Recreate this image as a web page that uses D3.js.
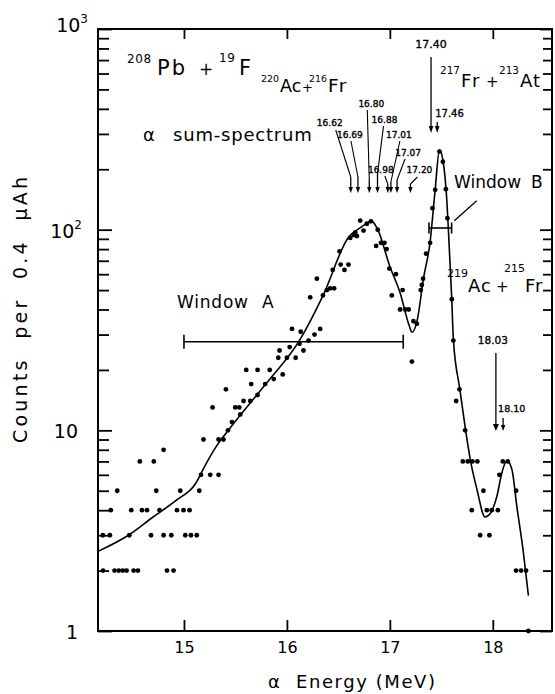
<!DOCTYPE html>
<html>
<head>
<meta charset="utf-8">
<script src="https://cdn.jsdelivr.net/npm/d3@7"></script>
<style>
  body { margin: 0; background: #fff; }
  svg { display: block; }
  text { font-family: "DejaVu Sans", "Noto Sans", sans-serif; fill: #000; }
</style>
</head>
<body>
<svg id="chart" width="555" height="694"></svg>
<script>
// ---- data ----
const xTicks = [15, 16, 17, 18];
const yTicks = [1, 10, 100, 1000];
const yTickBase = ["1", "10", "10", "10"];
const yTickExp = ["", "", "2", "3"];

// measured alpha sum-spectrum (energy in MeV, counts per 0.4 uAh)
const energy = [
  14.212, 14.214, 14.280, 14.289, 14.326, 14.352, 14.367, 14.406, 14.443, 14.469,
  14.488, 14.511, 14.553, 14.571, 14.592, 14.641, 14.680, 14.707, 14.731, 14.763,
  14.802, 14.802, 14.835, 14.877, 14.899, 14.932, 14.964, 14.996, 15.013, 15.054,
  15.068, 15.124, 15.149, 15.165, 15.190, 15.255, 15.278, 15.336, 15.336, 15.384,
  15.408, 15.427, 15.466, 15.498, 15.537, 15.547, 15.579, 15.605, 15.644, 15.653,
  15.715, 15.715, 15.789, 15.833, 15.872, 15.916, 15.928, 15.959, 16.000, 16.027,
  16.049, 16.085, 16.122, 16.134, 16.161, 16.210, 16.226, 16.268, 16.291, 16.323,
  16.350, 16.388, 16.420, 16.445, 16.459, 16.511, 16.522, 16.559, 16.598, 16.615,
  16.649, 16.663, 16.680, 16.712, 16.744, 16.777, 16.816, 16.867, 16.882, 16.913,
  16.948, 16.969, 16.995, 17.019, 17.059, 17.100, 17.124, 17.149, 17.183, 17.214,
  17.229, 17.262, 17.300, 17.310, 17.323, 17.352, 17.391, 17.414, 17.440, 17.482,
  17.515, 17.544, 17.559, 17.602, 17.617, 17.644, 17.676, 17.709, 17.731, 17.757,
  17.796, 17.802, 17.850, 17.877, 17.909, 17.942, 17.967, 17.990, 18.049, 18.064,
  18.097, 18.146, 18.226, 18.226, 18.275, 18.323, 18.346
];
const counts = [
  3, 2, 3, 4, 2, 5, 2, 2, 2, 3,
  4, 2, 2, 7, 4, 4, 3, 7, 5, 4,
  3, 8, 2, 3, 2, 4, 5, 4, 3, 4,
  3, 3, 5, 6, 9, 6, 13, 6, 9, 9,
  16, 10, 11, 13, 13, 12, 14, 20, 14, 17,
  15, 20, 17, 20, 18, 23, 25, 19, 23, 26,
  32, 23, 27, 31, 25, 28, 46, 30, 57, 32,
  47, 50, 51, 63, 51, 78, 67, 63, 67, 91,
  94, 97, 93, 111, 99, 107, 110, 83, 100, 86,
  86, 80, 64, 47, 60, 40, 50, 40, 40, 22,
  35, 34, 50, 53, 57, 76, 86, 128, 158, 245,
  218, 159, 114, 45, 28, 14, 16, 7, 10, 7,
  4, 7, 7, 3, 5, 4, 3, 4, 4, 6,
  7, 7, 5, 2, 2, 2, 1
];

// smooth fit through the spectrum
const fitEnergy = [
  14.17, 14.46, 14.70, 14.93, 15.11, 15.20, 15.30, 15.45, 15.79, 16.13,
  16.355, 16.60, 16.71, 16.825, 16.875, 17.00, 17.10, 17.19, 17.215, 17.26,
  17.33, 17.39, 17.44, 17.482, 17.52, 17.553, 17.57, 17.60, 17.617, 17.68,
  17.73, 17.78, 17.845, 17.925, 17.975, 18.04, 18.09, 18.136, 18.185, 18.233,
  18.297, 18.346
];
const fitCounts = [
  2.5, 3.0, 3.7, 4.5, 5.4, 6.6, 8.1, 10.3, 16.9, 28.5,
  47.5, 92, 102, 110, 102, 65.6, 48.4, 33, 30.8, 34.3,
  58.5, 86, 158, 250, 214, 141, 96.5, 46.5, 28.4, 16,
  10.5, 7.2, 5.1, 3.7, 3.85, 4.7, 6.2, 7.05, 6.4, 4.2,
  2.46, 1.5
];

// expected sum-line energies marked by arrows (MeV)
const groupLines = [16.62, 16.69, 16.80, 16.88, 16.98, 17.01, 17.07, 17.20];
const peakLines = [17.40, 17.46];
const tailLines = [18.03, 18.10];

// energy windows (MeV)
const windowA = [15.00, 17.13];
const windowB = [17.38, 17.60];

// ---- layout ----
const plot = { left: 98, right: 552, top: 29, bottom: 631 };
const x = d3.scaleLinear().domain([14.165, 18.575]).range([plot.left, plot.right]);
const y = d3.scaleLog().domain([1, 1000]).range([plot.bottom, plot.top]);

const svg = d3.select("#chart");
const ink = "#000";

const minorTicks = [];
for (let d = 1; d < 1000; d *= 10) for (let k = 2; k <= 9; k++) minorTicks.push(k * d);

function styleAxis(g) {
  g.select(".domain").remove();
  g.selectAll(".tick line").attr("stroke", ink).attr("stroke-width", 1.8);
  g.attr("font-family", null).attr("font-size", null);
}

// left axis: major ticks with labels, minor ticks without
const gL = svg.append("g").attr("transform", `translate(${plot.left},0)`)
  .call(d3.axisLeft(y).tickValues(yTicks).tickSizeInner(-14).tickSizeOuter(0).tickPadding(20)
    .tickFormat(() => ""));
styleAxis(gL);
const yLabelShift = { 1: [-20, 0], 10: [-20, 0], 100: [-16, 1], 1000: [-10, -5] };
gL.selectAll(".tick text").each(function (d) {
  const i = yTicks.indexOf(d);
  const t = d3.select(this).attr("font-size", 19).attr("fill", ink)
    .attr("x", yLabelShift[d][0]).attr("dy", null).attr("y", yLabelShift[d][1] + 7);
  t.append("tspan").text(yTickBase[i]);
  if (yTickExp[i]) t.append("tspan").attr("font-size", 12).attr("dy", -9).text(yTickExp[i]);
});
const gLm = svg.append("g").attr("transform", `translate(${plot.left},0)`)
  .call(d3.axisLeft(y).tickValues(minorTicks).tickSizeInner(-11).tickSizeOuter(0).tickFormat(() => ""));
styleAxis(gLm);

// right axis, ticks pointing inward
const gR = svg.append("g").attr("transform", `translate(${plot.right},0)`)
  .call(d3.axisRight(y).tickValues(yTicks).tickSizeInner(-12).tickSizeOuter(0).tickFormat(() => ""));
styleAxis(gR);
const gRm = svg.append("g").attr("transform", `translate(${plot.right},0)`)
  .call(d3.axisRight(y).tickValues(minorTicks).tickSizeInner(-9).tickSizeOuter(0).tickFormat(() => ""));
styleAxis(gRm);

// bottom axis with labels
const gB = svg.append("g").attr("transform", `translate(0,${plot.bottom})`)
  .call(d3.axisBottom(x).tickValues(xTicks).tickSizeInner(-11).tickSizeOuter(0).tickPadding(11)
    .tickFormat(d3.format("d")));
styleAxis(gB);
gB.selectAll(".tick text").attr("font-size", 16).attr("fill", ink);

// top axis, ticks only
const gT = svg.append("g").attr("transform", `translate(0,${plot.top})`)
  .call(d3.axisTop(x).tickValues(xTicks).tickSizeInner(-10).tickSizeOuter(0).tickFormat(() => ""));
styleAxis(gT);

// frame
svg.append("rect")
  .attr("x", plot.left).attr("y", plot.top)
  .attr("width", plot.right - plot.left).attr("height", plot.bottom - plot.top)
  .attr("fill", "none").attr("stroke", ink).attr("stroke-width", 2);

// axis titles
svg.append("text")
  .attr("x", 268).attr("y", 688)
  .attr("font-size", 18).attr("textLength", 167).attr("lengthAdjust", "spacing")
  .style("white-space", "pre")
  .text("α  Energy (MeV)");

svg.append("text")
  .attr("transform", "translate(27,310) rotate(-90)")
  .attr("text-anchor", "middle")
  .attr("font-size", 19).attr("textLength", 266).attr("lengthAdjust", "spacing")
  .style("white-space", "pre")
  .text("Counts  per  0.4  μAh");

// plot content
svg.append("clipPath").attr("id", "plotClip").append("rect")
  .attr("x", plot.left).attr("y", plot.top)
  .attr("width", plot.right - plot.left).attr("height", plot.bottom - plot.top);

const fitLine = d3.line()
  .x(d => x(d[0])).y(d => y(d[1]))
  .curve(d3.curveMonotoneX);
svg.append("path")
  .datum(fitEnergy.map((e, i) => [e, fitCounts[i]]))
  .attr("clip-path", "url(#plotClip)")
  .attr("d", fitLine)
  .attr("fill", "none").attr("stroke", ink).attr("stroke-width", 1.6);

svg.append("g").selectAll("circle")
  .data(energy.map((e, i) => [e, counts[i]]))
  .join("circle")
  .attr("cx", d => x(d[0])).attr("cy", d => y(d[1]))
  .attr("r", 2.4).attr("fill", ink);

// ---- annotations ----
function richText(parts) {
  const t = svg.append("text");
  parts.forEach(p => {
    const s = t.append("tspan").attr("x", p.x).attr("y", p.y).attr("font-size", p.s).text(p.t);
    if (p.ls) s.attr("letter-spacing", p.ls);
  });
  return t;
}

richText([
  { t: "208", x: 127, y: 63, s: 12, ls: 0.6 },
  { t: "Pb", x: 157, y: 75, s: 21, ls: 2 },
  { t: "+", x: 199, y: 75, s: 17 },
  { t: "19", x: 219, y: 62, s: 12, ls: 0.6 },
  { t: "F", x: 239, y: 75, s: 21 }
]);
richText([
  { t: "220", x: 261, y: 82, s: 9.5 },
  { t: "Ac", x: 280, y: 92, s: 17.5 },
  { t: "+", x: 302, y: 92, s: 13 },
  { t: "216", x: 309, y: 82, s: 9.5 },
  { t: "Fr", x: 328, y: 92, s: 18.5, ls: 1.5 }
]);
richText([
  { t: "217", x: 440, y: 74, s: 10.5 },
  { t: "Fr", x: 461, y: 87, s: 18, ls: 2 },
  { t: "+", x: 486, y: 87, s: 15 },
  { t: "213", x: 499, y: 74, s: 10.5 },
  { t: "At", x: 520, y: 87, s: 18, ls: 1 }
]);
richText([
  { t: "219", x: 447, y: 277, s: 11 },
  { t: "Ac", x: 468, y: 292, s: 18, ls: 1 },
  { t: "+", x: 496, y: 292, s: 15 },
  { t: "215", x: 504, y: 272, s: 11 },
  { t: "Fr", x: 525, y: 292, s: 18, ls: 1 }
]);
richText([
  { t: "α ", x: 143, y: 141, s: 18 },
  { t: "sum-spectrum", x: 173, y: 141, s: 18, ls: 0.8 }
]);
richText([
  { t: "Window ", x: 177, y: 308, s: 17, ls: 0.8 },
  { t: "A", x: 262, y: 308, s: 17 }
]);
richText([
  { t: "Window ", x: 454, y: 188, s: 17 },
  { t: "B", x: 531, y: 188, s: 17 }
]);

// window bars
function windowBar(range, yy, cap) {
  const g = svg.append("g").attr("stroke", ink).attr("stroke-width", 1.6);
  g.append("line").attr("x1", x(range[0])).attr("x2", x(range[1])).attr("y1", yy).attr("y2", yy);
  range.forEach(e => g.append("line").attr("x1", x(e)).attr("x2", x(e)).attr("y1", yy - cap).attr("y2", yy + cap));
}
windowBar(windowA, 341.7, 7);
windowBar(windowB, 228, 5.5);
svg.append("line").attr("x1", 454.3).attr("y1", 220.7).attr("x2", 476.7).attr("y2", 200.7)
  .attr("stroke", ink).attr("stroke-width", 1.3);

// arrows
function arrow(xx, yTop, yBot, hw, hh) {
  svg.append("line").attr("x1", xx).attr("x2", xx).attr("y1", yTop).attr("y2", yBot - hh + 1)
    .attr("stroke", ink).attr("stroke-width", 1.3);
  svg.append("path")
    .attr("d", `M${xx - hw},${yBot - hh}L${xx + hw},${yBot - hh}L${xx},${yBot}Z`)
    .attr("fill", ink);
}
function smallLabel(txt, xx, yy, size, anchor) {
  svg.append("text").attr("x", xx).attr("y", yy).attr("font-size", size)
    .attr("text-anchor", anchor || "middle")
    .attr("stroke", ink).attr("stroke-width", 0.35)
    .text(txt);
}

// label offsets relative to each arrow: label dx, label baseline, leader start dx/y, shaft top
const groupLayout = [
  { dx: -21, ly: 126, lx0: -15, ly0: 130, top: 177 },
  { dx: -8, ly: 138, lx0: -7, ly0: 141, top: 177 },
  { dx: 2, ly: 107, lx0: -2, ly0: 110, top: 180 },
  { dx: 7, ly: 123, lx0: 6, ly0: 126, top: 174 },
  { dx: -7, ly: 173, lx0: -3, ly0: 176, top: 184 },
  { dx: 8, ly: 138, lx0: 9, ly0: 141, top: 182 },
  { dx: 11, ly: 156, lx0: 8, ly0: 159, top: 180 },
  { dx: 9, ly: 173, lx0: 7, ly0: 177, top: 184 }
];
groupLines.forEach((e, i) => {
  const L = groupLayout[i], xx = x(e);
  svg.append("line").attr("x1", xx + L.lx0).attr("y1", L.ly0).attr("x2", xx).attr("y2", L.top)
    .attr("stroke", ink).attr("stroke-width", 1.1);
  arrow(xx, L.top, 193, 2.2, 6);
  smallLabel(e.toFixed(2), xx + L.dx, L.ly, 9);
});

// 217Fr + 213At lines
arrow(x(peakLines[0]), 57, 133, 2.3, 7);
smallLabel(peakLines[0].toFixed(2), x(peakLines[0]), 48, 11);
arrow(x(peakLines[1]), 122, 133, 2.3, 7);
smallLabel(peakLines[1].toFixed(2), x(peakLines[1]) - 2, 117, 10, "start");

// 219Ac + 215Fr lines
arrow(x(tailLines[0]), 353, 431, 3, 7);
smallLabel(tailLines[0].toFixed(2), x(tailLines[0]) - 3, 344, 10.5);
arrow(x(tailLines[1]), 418, 431, 2.2, 6);
smallLabel(tailLines[1].toFixed(2), x(tailLines[1]) - 5, 412, 9.5, "start");
</script>
</body>
</html>
